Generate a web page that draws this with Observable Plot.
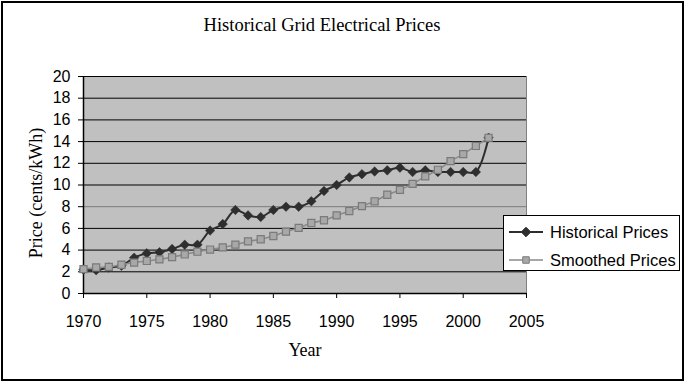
<!DOCTYPE html>
<html>
<head>
<meta charset="utf-8">
<script src="https://cdn.jsdelivr.net/npm/d3@7"></script>
<script src="https://cdn.jsdelivr.net/npm/@observablehq/plot@0.6"></script>
<style>
  html, body { margin: 0; padding: 0; background: #fff; }
  #wrap { position: relative; width: 685px; height: 383px; overflow: hidden; background: #fff; }
  #wrap svg { position: absolute; left: 0; top: 0; }
  .frameBox { position: absolute; left: 1px; top: 1px; width: 679px; height: 376px; border: 2px solid #000; pointer-events: none; }
  .serif { font-family: "Liberation Serif", "Times New Roman", serif; color: #000; position: absolute; white-space: nowrap; line-height: 1; }
  #title { font-size: 18.5px; left: 322px; top: 25px; transform: translate(-50%, -50%); }
  #xlab { font-size: 18px; left: 305px; top: 350px; transform: translate(-50%, -50%); }
  #ylab { font-size: 18px; left: 36px; top: 193px; transform: translate(-50%, -50%) rotate(-90deg); }
  #legend { position: absolute; left: 503px; top: 215px; width: 175px; height: 54px; border: 1px solid #000; background: #fff;
            font-family: "Liberation Sans", Arial, sans-serif; font-size: 16.5px; }
  #legend .row { position: absolute; left: 4px; height: 20px; display: flex; align-items: center; }
  #legend svg { position: static; margin-right: 6px; }
</style>
</head>
<body>
<div id="wrap">
  <div id="title" class="serif">Historical Grid Electrical Prices</div>
  <div id="xlab" class="serif">Year</div>
  <div id="ylab" class="serif">Price (cents/kWh)</div>
  <div id="legend"></div>
  <div class="frameBox"></div>
</div>
<script>
const years = [1970, 1971, 1972, 1973, 1974, 1975, 1976, 1977, 1978, 1979,
               1980, 1981, 1982, 1983, 1984, 1985, 1986, 1987, 1988, 1989,
               1990, 1991, 1992, 1993, 1994, 1995, 1996, 1997, 1998, 1999,
               2000, 2001, 2002];
const historicalPrices = [2.2, 2.15, 2.4, 2.55, 3.3, 3.7, 3.8, 4.1, 4.5, 4.5,
                          5.8, 6.4, 7.7, 7.2, 7.05, 7.7, 8.0, 8.0, 8.5, 9.45,
                          10.0, 10.7, 11.0, 11.25, 11.35, 11.6, 11.2, 11.35, 11.2, 11.2,
                          11.2, 11.2, 14.35];
const smoothedPrices = [2.24, 2.4, 2.45, 2.65, 2.85, 3.0, 3.15, 3.35, 3.6, 3.85,
                        4.05, 4.25, 4.5, 4.8, 5.0, 5.3, 5.7, 6.05, 6.5, 6.75,
                        7.2, 7.6, 8.05, 8.5, 9.1, 9.55, 10.1, 10.8, 11.4, 12.2,
                        12.85, 13.6, 14.35];
const xTicks = [1970, 1975, 1980, 1985, 1990, 1995, 2000, 2005];
const yTicks = [0, 2, 4, 6, 8, 10, 12, 14, 16, 18, 20];
const seriesNames = ["Historical Prices", "Smoothed Prices"];

const histColor = "#2e2e2e";
const smoothLine = "#8a8a8a";
const smoothFill = "#a8a8a8";
const smoothStroke = "#7a7a7a";

const hist = years.map((y, i) => ({year: y, price: historicalPrices[i]}));
const smooth = years.map((y, i) => ({year: y, price: smoothedPrices[i]}));

const chart = Plot.plot({
  width: 685,
  height: 383,
  marginLeft: 83,
  marginRight: 159,
  marginTop: 76,
  marginBottom: 90,
  style: {background: "transparent", fontFamily: "Liberation Sans, Arial, sans-serif", fontSize: "16px", color: "#000"},
  x: {domain: [1970, 2005]},
  y: {domain: [0, 20]},
  marks: [
    Plot.frame({fill: "#c0c0c0", stroke: "#808080"}),
    Plot.gridY(yTicks.filter(d => d > 0), {stroke: d => d === 8 ? "#7a7a7a" : "#000", strokeOpacity: 1, strokeWidth: 1}),
    Plot.axisX(xTicks, {tickSize: 5, tickPadding: 17, tickFormat: d => String(d), label: null, fontSize: 16, stroke: "#000"}),
    Plot.axisY(yTicks, {tickSize: 5, tickPadding: 8, label: null, fontSize: 16, stroke: "#000"}),
    Plot.ruleX([1970], {stroke: "#000", strokeWidth: 1.5}),
    Plot.ruleY([0], {stroke: "#000", strokeWidth: 1.5}),
    Plot.line(hist, {x: "year", y: "price", stroke: histColor, strokeWidth: 2, curve: "catmull-rom"}),
    Plot.dot(hist, {x: "year", y: "price", symbol: "diamond2", r: 4.3, fill: histColor, stroke: histColor, strokeWidth: 0.5}),
    Plot.line(smooth, {x: "year", y: "price", stroke: smoothLine, strokeWidth: 1.6, curve: "catmull-rom"}),
    Plot.dot(smooth, {x: "year", y: "price", symbol: "square", r: 4, fill: smoothFill, stroke: smoothStroke, strokeWidth: 1.2})
  ]
});
document.getElementById("wrap").insertBefore(chart, document.getElementById("title"));

// legend
const legend = document.getElementById("legend");
const legendItems = [
  {name: seriesNames[0], line: histColor, lw: 2, symbol: d3.symbolDiamond2, size: 58, fill: histColor, stroke: histColor},
  {name: seriesNames[1], line: smoothLine, lw: 1.6, symbol: d3.symbolSquare, size: 42, fill: smoothFill, stroke: smoothStroke}
];
legendItems.forEach((it, i) => {
  const row = document.createElement("div");
  row.className = "row";
  row.style.top = (i === 0 ? 6 : 34) + "px";
  const s = d3.create("svg").attr("width", 36).attr("height", 16);
  s.append("line").attr("x1", 1).attr("x2", 35).attr("y1", 8).attr("y2", 8).attr("stroke", it.line).attr("stroke-width", it.lw);
  s.append("path").attr("d", d3.symbol(it.symbol, it.size)()).attr("transform", "translate(18,8)")
    .attr("fill", it.fill).attr("stroke", it.stroke);
  row.appendChild(s.node());
  const t = document.createElement("span");
  t.textContent = it.name;
  row.appendChild(t);
  legend.appendChild(row);
});
</script>
</body>
</html>
